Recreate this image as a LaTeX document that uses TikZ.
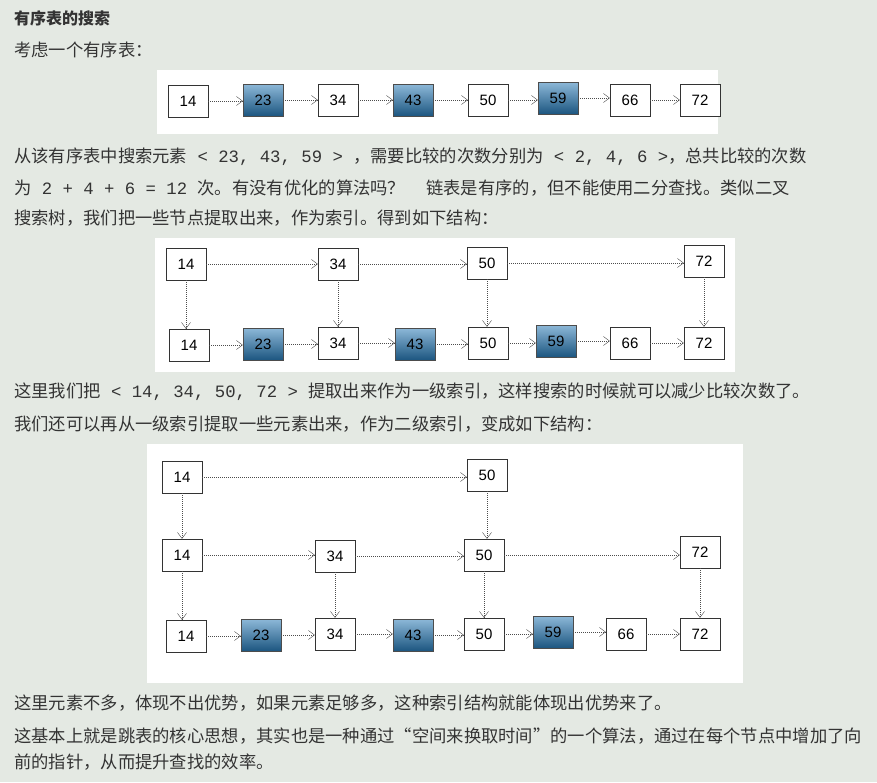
\documentclass[tikz,border=0pt]{standalone}
\usepackage{fontspec}
\setmainfont{Liberation Serif}
\setsansfont{Liberation Sans}
\newfontfamily\cjk{Noto Sans CJK SC}
\newfontfamily\mn{Liberation Mono}
\usetikzlibrary{arrows.meta}
\definecolor{bg}{HTML}{E4E9E3}
\definecolor{txt}{HTML}{333333}
\definecolor{btop}{HTML}{8DB8D8}
\definecolor{bbot}{HTML}{1C5680}
\begin{document}
\begin{tikzpicture}[x=1pt,y=-1pt,
  wbox/.style={draw=black!80,fill=white,minimum width=40pt,minimum height=32pt,inner sep=0pt,font=\fontsize{15}{15}\sffamily},
  bbox/.style={wbox,top color=btop,bottom color=bbot,draw=black!70},
  lnk/.style={draw=black!70,dash pattern=on 1pt off 1pt,-{Straight Barb[length=6pt,width=9pt]}},
  t/.style={anchor=west,inner sep=0pt,text=txt,font=\cjk\fontsize{17.3}{17.3}\selectfont}]
\fill[bg] (0,0) rectangle (877,782);
\useasboundingbox (0,0) rectangle (877,782);
\fill[white] (157,70) rectangle (718,134);
\fill[white] (155,238) rectangle (735,372);
\fill[white] (147,444) rectangle (743,683);
\node[t,font=\cjk\bfseries\fontsize{16}{16}\selectfont] (h) at (14,18) {有序表的搜索};
\node[t] (l1) at (14,50) {考虑一个有序表：};
\node[t] (l2) at (14,157) {从该有序表中搜索元素{\mn\ < 23, 43, 59 > }，需要比较的次数分别为{\mn\ < 2, 4, 6 >}，总共比较的次数};
\node[t] (l3) at (14,188) {为{\mn\ 2 + 4 + 6 = 12 }次。有没有优化的算法吗？ \quad 链表是有序的，但不能使用二分查找。类似二叉};
\node[t] (l4) at (14,218) {搜索树，我们把一些节点提取出来，作为索引。得到如下结构：};
\node[t] (l5) at (14,392) {这里我们把{\mn\ < 14, 34, 50, 72 > }提取出来作为一级索引，这样搜索的时候就可以减少比较次数了。};
\node[t] (l6) at (14,424) {我们还可以再从一级索引提取一些元素出来，作为二级索引，变成如下结构：};
\node[t] (l7) at (14,703) {这里元素不多，体现不出优势，如果元素足够多，这种索引结构就能体现出优势来了。};
\node[t] (l8) at (14,736) {这基本上就是跳表的核心思想，其实也是一种通过“空间来换取时间”的一个算法，通过在每个节点中增加了向};
\node[t] (l9) at (14,762) {前的指针，从而提升查找的效率。};
% panel 1
\node[wbox] (a1) at (188,101) {14};
\node[bbox] (a2) at (263,100) {23};
\node[wbox] (a3) at (338,100) {34};
\node[bbox] (a4) at (413,100) {43};
\node[wbox] (a5) at (488,100) {50};
\node[bbox] (a6) at (558,98) {59};
\node[wbox] (a7) at (630,100) {66};
\node[wbox] (a8) at (700,100) {72};
\foreach \i/\j in {1/2,2/3,3/4,4/5,5/6,6/7,7/8} \draw[lnk] (a\i.east) -- (a\i.east -| a\j.west);
% panel 2
\node[wbox] (b1) at (186,264) {14};
\node[wbox] (b2) at (338,264) {34};
\node[wbox] (b3) at (487,263) {50};
\node[wbox] (b4) at (704,261) {72};
\node[wbox] (c1) at (189,345) {14};
\node[bbox] (c2) at (263,344) {23};
\node[wbox] (c3) at (338,343) {34};
\node[bbox] (c4) at (415,344) {43};
\node[wbox] (c5) at (488,343) {50};
\node[bbox] (c6) at (556,341) {59};
\node[wbox] (c7) at (630,343) {66};
\node[wbox] (c8) at (704,343) {72};
\foreach \i/\j in {1/2,2/3,3/4} \draw[lnk] (b\i.east) -- (b\i.east -| b\j.west);
\foreach \i/\j in {1/2,2/3,3/4,4/5,5/6,6/7,7/8} \draw[lnk] (c\i.east) -- (c\i.east -| c\j.west);
\draw[lnk] (b1.south) -- (b1.south |- c1.north); \draw[lnk] (b2.south) -- (b2.south |- c3.north);
\draw[lnk] (b3.south) -- (b3.south |- c5.north); \draw[lnk] (b4.south) -- (b4.south |- c8.north);
% panel 3
\node[wbox] (d1) at (182,477) {14};
\node[wbox] (d2) at (487,475) {50};
\node[wbox] (e1) at (182,555) {14};
\node[wbox] (e2) at (335,556) {34};
\node[wbox] (e3) at (484,555) {50};
\node[wbox] (e4) at (700,552) {72};
\node[wbox] (f1) at (186,636) {14};
\node[bbox] (f2) at (261,635) {23};
\node[wbox] (f3) at (335,634) {34};
\node[bbox] (f4) at (413,635) {43};
\node[wbox] (f5) at (484,634) {50};
\node[bbox] (f6) at (553,632) {59};
\node[wbox] (f7) at (626,634) {66};
\node[wbox] (f8) at (700,634) {72};
\draw[lnk] (d1.east) -- (d1.east -| d2.west);
\foreach \i/\j in {1/2,2/3,3/4} \draw[lnk] (e\i.east) -- (e\i.east -| e\j.west);
\foreach \i/\j in {1/2,2/3,3/4,4/5,5/6,6/7,7/8} \draw[lnk] (f\i.east) -- (f\i.east -| f\j.west);
\draw[lnk] (d1.south) -- (d1.south |- e1.north); \draw[lnk] (d2.south) -- (d2.south |- e3.north);
\draw[lnk] (e1.south) -- (e1.south |- f1.north); \draw[lnk] (e2.south) -- (e2.south |- f3.north);
\draw[lnk] (e3.south) -- (e3.south |- f5.north); \draw[lnk] (e4.south) -- (e4.south |- f8.north);
\end{tikzpicture}
\end{document}
